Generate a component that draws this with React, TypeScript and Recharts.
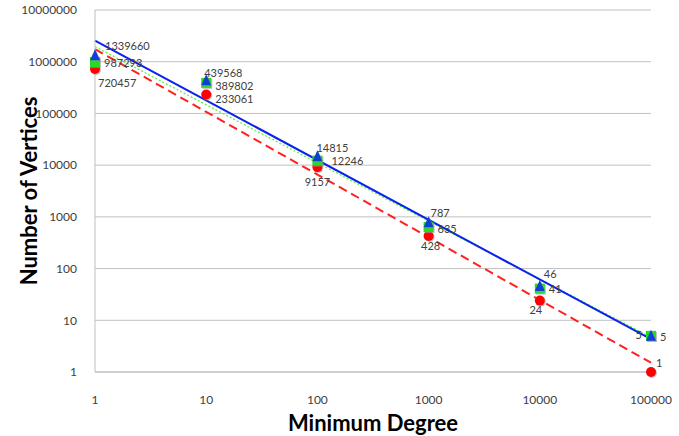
import React from "react";
import {
  ComposedChart,
  Scatter,
  Line,
  XAxis,
  YAxis,
  CartesianGrid,
} from "recharts";

const degrees = [1, 10, 100, 1000, 10000, 100000];
const blueVals = [1339660, 439568, 14815, 787, 46, 5];
const greenVals = [987293, 389802, 12246, 635, 41, 5];
const redVals = [720457, 233061, 9157, 428, 24, 1];

// trend line end points
const trendX = [1, 100000];
const blueTrend = [2560000, 4.3];
const greenTrend = [1960000, 4.7];
const redTrend = [1750000, 1.51];

const yTicks = [1, 10, 100, 1000, 10000, 100000, 1000000, 10000000];

const FONT = "Lato, 'Open Sans', sans-serif";
const LABEL_COLOR = "#404040";

const toPoints = (vals: number[]) => degrees.map((x, i) => ({ x, y: vals[i] }));
const toTrend = (vals: number[]) => trendX.map((x, i) => ({ x, y: vals[i] }));

type Off = [number, number, "start" | "middle" | "end"];

const blueOff: Off[] = [
  [10, -10, "start"],
  [-2, -8, "start"],
  [-1, -9, "start"],
  [2, -10, "start"],
  [4, -13, "start"],
  [-9, -1, "end"],
];
const greenOff: Off[] = [
  [9, 0, "start"],
  [9, 3, "start"],
  [14, 0, "start"],
  [9, 1, "start"],
  [9, 0, "start"],
  [9, 1, "start"],
];
const redOff: Off[] = [
  [3, 13, "start"],
  [9, 4, "start"],
  [0, 14, "middle"],
  [2, 10, "middle"],
  [-4, 9, "middle"],
  [5, -10, "start"],
];

function label(cx: number, cy: number, value: number, off: Off) {
  return (
    <text
      x={cx + off[0]}
      y={cy + off[1]}
      textAnchor={off[2]}
      dominantBaseline="central"
      fontSize={11}
      fontFamily={FONT}
      fill={LABEL_COLOR}
    >
      {value}
    </text>
  );
}

function makeShape(kind: "tri" | "sq" | "circ", color: string, offs: Off[]) {
  return (props: any) => {
    const { cx, cy, payload } = props;
    if (cx == null || cy == null) return <g />;
    const i = degrees.indexOf(payload.x);
    let mark;
    let shadow;
    if (kind === "tri") {
      const p = (dx: number, dy: number) =>
        `${cx - 5 + dx},${cy + 5 + dy} ${cx + 5 + dx},${cy + 5 + dy} ${cx + dx},${cy - 6 + dy}`;
      shadow = <polygon points={p(1, 1)} fill="#9a9a9a" opacity={0.6} />;
      mark = <polygon points={p(0, 0)} fill={color} />;
    } else if (kind === "sq") {
      shadow = <rect x={cx - 4} y={cy - 4} width={10} height={10} fill="#9a9a9a" opacity={0.6} />;
      mark = <rect x={cx - 5} y={cy - 5} width={10} height={10} fill={color} />;
    } else {
      shadow = <circle cx={cx + 1} cy={cy + 1} r={5} fill="#9a9a9a" opacity={0.6} />;
      mark = <circle cx={cx} cy={cy} r={5} fill={color} />;
    }
    return (
      <g>
        {shadow}
        {mark}
        {label(cx, cy, payload.y, offs[i])}
      </g>
    );
  };
}

export default function App() {
  return (
    <div style={{ width: 679, height: 436 }}>
      <style>{"body{margin:0}"}</style>
      <ComposedChart
        width={679}
        height={436}
        margin={{ top: 10, right: 28, left: 0, bottom: 0 }}
      >
        <CartesianGrid vertical={false} stroke="#c0c0c0" strokeWidth={1} />
        <XAxis
          dataKey="x"
          type="number"
          scale="log"
          domain={[1, 100000]}
          ticks={degrees}
          height={64}
          tickLine={false}
          axisLine={{ stroke: "#bfbfbf" }}
          tickMargin={17}
          tick={{ fontSize: 12, fontFamily: FONT, fill: LABEL_COLOR }}
          label={(p: any) => {
            const vb = p.viewBox;
            return (
              <text
                x={vb.x + vb.width / 2}
                y={vb.y + 50}
                textAnchor="middle"
                dominantBaseline="central"
                fontSize={22}
                fontWeight="bold"
                fontFamily={FONT}
                fill="#000"
              >
                Minimum Degree
              </text>
            );
          }}
        />
        <YAxis
          dataKey="y"
          type="number"
          scale="log"
          domain={[1, 10000000]}
          ticks={yTicks}
          width={95}
          tickLine={false}
          axisLine={{ stroke: "#bfbfbf" }}
          tickMargin={12}
          tick={{ fontSize: 12, fontFamily: FONT, fill: LABEL_COLOR }}
          label={(p: any) => {
            const vb = p.viewBox;
            const x = vb.x + 28;
            const y = vb.y + vb.height / 2;
            return (
              <text
                x={x}
                y={y}
                transform={`rotate(-90 ${x} ${y})`}
                textAnchor="middle"
                dominantBaseline="central"
                fontSize={22}
                fontWeight="bold"
                fontFamily={FONT}
                fill="#000"
              >
                Number of Vertices
              </text>
            );
          }}
        />
        <Scatter
          data={toPoints(redVals)}
          dataKey="y"
          isAnimationActive={false}
          shape={makeShape("circ", "#ff0000", redOff)}
        />
        <Scatter
          data={toPoints(greenVals)}
          dataKey="y"
          isAnimationActive={false}
          shape={makeShape("sq", "#22dd22", greenOff)}
        />
        <Scatter
          data={toPoints(blueVals)}
          dataKey="y"
          isAnimationActive={false}
          shape={makeShape("tri", "#1040d0", blueOff)}
        />
        <Line
          data={toTrend(redTrend)}
          dataKey="y"
          type="linear"
          stroke="#ff2020"
          strokeWidth={2}
          strokeDasharray="9 5"
          dot={false}
          isAnimationActive={false}
        />
        <Line
          data={toTrend(greenTrend)}
          dataKey="y"
          type="linear"
          stroke="#66ee44"
          strokeWidth={1.3}
          strokeDasharray="2 2"
          dot={false}
          isAnimationActive={false}
        />
        <Line
          data={toTrend(blueTrend)}
          dataKey="y"
          type="linear"
          stroke="#0a22ee"
          strokeWidth={2}
          dot={false}
          isAnimationActive={false}
        />
      </ComposedChart>
    </div>
  );
}
